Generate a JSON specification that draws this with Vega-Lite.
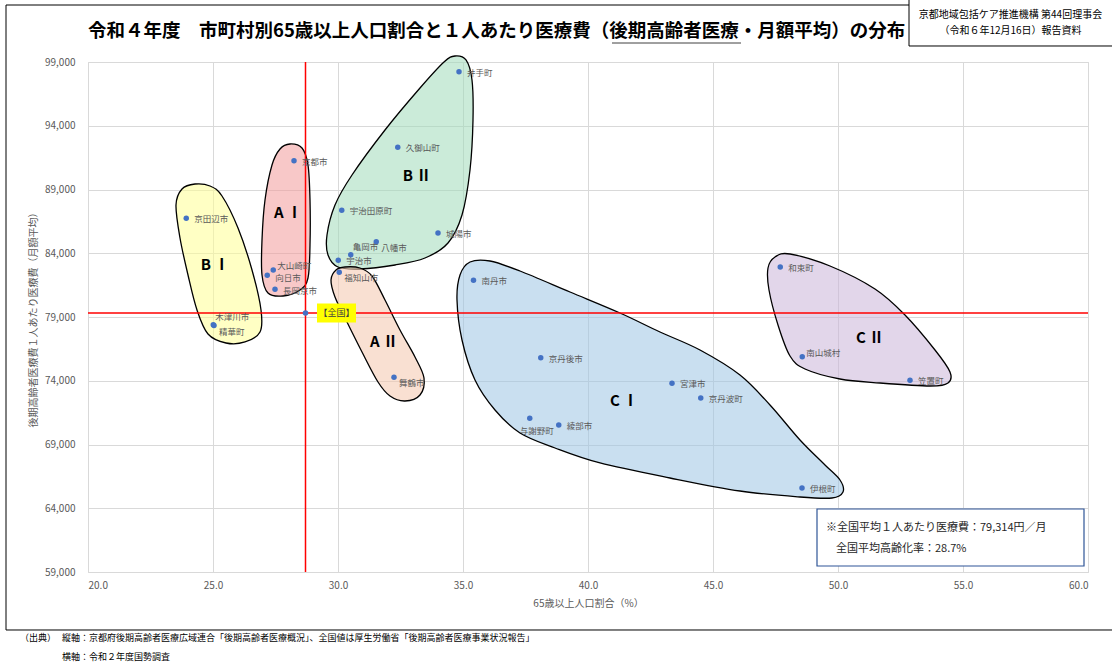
{
  "$schema": "https://vega.github.io/schema/vega-lite/v6.json",
  "width": 1000,
  "height": 510,
  "autosize": "none",
  "padding": {"left": 88, "top": 62, "right": 24, "bottom": 91},
  "background": "#ffffff",
  "config": {
    "font": "Noto Sans CJK JP",
    "view": {"stroke": "#d9d9d9", "strokeWidth": 1},
    "axis": {
      "domain": false,
      "ticks": false,
      "grid": true,
      "gridColor": "#d9d9d9",
      "gridWidth": 1,
      "labelColor": "#595959",
      "labelFontSize": 10,
      "labelFont": "Noto Sans CJK JP",
      "titleColor": "#595959",
      "titleFontWeight": "normal",
      "titleFont": "Noto Sans CJK JP",
      "titleFontSize": 10
    }
  },
  "datasets": {
    "cities": [
      {"name": "京都市", "pct": 28.24, "cost": 91260},
      {"name": "京田辺市", "pct": 23.93, "cost": 86740},
      {"name": "宇治田原町", "pct": 30.15, "cost": 87370},
      {"name": "亀岡市", "pct": 30.51, "cost": 83890},
      {"name": "八幡市", "pct": 31.53, "cost": 84910},
      {"name": "宇治市", "pct": 30.01, "cost": 83450},
      {"name": "福知山市", "pct": 30.05, "cost": 82510},
      {"name": "久御山町", "pct": 32.39, "cost": 92310},
      {"name": "井手町", "pct": 34.84, "cost": 98240},
      {"name": "城陽市", "pct": 34.0, "cost": 85590},
      {"name": "南丹市", "pct": 35.42, "cost": 81880},
      {"name": "大山崎町", "pct": 27.41, "cost": 82690},
      {"name": "向日市", "pct": 27.17, "cost": 82270},
      {"name": "長岡京市", "pct": 27.48, "cost": 81170},
      {"name": "木津川市", "pct": 25.01, "cost": 78400},
      {"name": "精華町", "pct": 25.04, "cost": 78330},
      {"name": "舞鶴市", "pct": 32.24, "cost": 74270},
      {"name": "京丹後市", "pct": 38.11, "cost": 75810},
      {"name": "与謝野町", "pct": 37.67, "cost": 71060},
      {"name": "綾部市", "pct": 38.83, "cost": 70530},
      {"name": "宮津市", "pct": 43.36, "cost": 73800},
      {"name": "京丹波町", "pct": 44.51, "cost": 72650},
      {"name": "伊根町", "pct": 48.56, "cost": 65590},
      {"name": "南山城村", "pct": 48.57, "cost": 75890},
      {"name": "和束町", "pct": 47.69, "cost": 82920},
      {"name": "笠置町", "pct": 52.88, "cost": 74040}
    ],
    "national": [
      {"name": "【全国】", "pct": 28.7, "cost": 79314}
    ],
    "zones": [
      {"group": "BⅠ", "i": 0, "pct": 24.28, "cost": 89432},
      {"group": "BⅠ", "i": 1, "pct": 24.88, "cost": 89275},
      {"group": "BⅠ", "i": 2, "pct": 25.36, "cost": 88490},
      {"group": "BⅠ", "i": 3, "pct": 26.0, "cost": 85981},
      {"group": "BⅠ", "i": 4, "pct": 26.56, "cost": 82687},
      {"group": "BⅠ", "i": 5, "pct": 26.92, "cost": 79549},
      {"group": "BⅠ", "i": 6, "pct": 26.88, "cost": 77824},
      {"group": "BⅠ", "i": 7, "pct": 26.28, "cost": 77040},
      {"group": "BⅠ", "i": 8, "pct": 25.52, "cost": 76961},
      {"group": "BⅠ", "i": 9, "pct": 24.8, "cost": 77667},
      {"group": "BⅠ", "i": 10, "pct": 24.36, "cost": 79549},
      {"group": "BⅠ", "i": 11, "pct": 24.0, "cost": 82295},
      {"group": "BⅠ", "i": 12, "pct": 23.68, "cost": 85196},
      {"group": "BⅠ", "i": 13, "pct": 23.52, "cost": 87785},
      {"group": "BⅠ", "i": 14, "pct": 23.76, "cost": 89039},
      {"group": "AⅠ", "i": 0, "pct": 28.08, "cost": 92569},
      {"group": "AⅠ", "i": 1, "pct": 28.56, "cost": 92255},
      {"group": "AⅠ", "i": 2, "pct": 28.8, "cost": 90922},
      {"group": "AⅠ", "i": 3, "pct": 28.88, "cost": 88177},
      {"group": "AⅠ", "i": 4, "pct": 28.88, "cost": 84647},
      {"group": "AⅠ", "i": 5, "pct": 28.8, "cost": 82059},
      {"group": "AⅠ", "i": 6, "pct": 28.48, "cost": 81118},
      {"group": "AⅠ", "i": 7, "pct": 27.8, "cost": 80647},
      {"group": "AⅠ", "i": 8, "pct": 27.2, "cost": 80883},
      {"group": "AⅠ", "i": 9, "pct": 26.96, "cost": 82295},
      {"group": "AⅠ", "i": 10, "pct": 26.96, "cost": 85040},
      {"group": "AⅠ", "i": 11, "pct": 27.08, "cost": 88177},
      {"group": "AⅠ", "i": 12, "pct": 27.36, "cost": 90922},
      {"group": "AⅠ", "i": 13, "pct": 27.68, "cost": 92177},
      {"group": "BⅡ", "i": 0, "pct": 34.68, "cost": 99471},
      {"group": "BⅡ", "i": 1, "pct": 35.12, "cost": 99157},
      {"group": "BⅡ", "i": 2, "pct": 35.36, "cost": 97588},
      {"group": "BⅡ", "i": 3, "pct": 35.4, "cost": 94451},
      {"group": "BⅡ", "i": 4, "pct": 35.28, "cost": 90530},
      {"group": "BⅡ", "i": 5, "pct": 34.96, "cost": 87000},
      {"group": "BⅡ", "i": 6, "pct": 34.4, "cost": 84804},
      {"group": "BⅡ", "i": 7, "pct": 33.48, "cost": 83628},
      {"group": "BⅡ", "i": 8, "pct": 32.28, "cost": 83079},
      {"group": "BⅡ", "i": 9, "pct": 30.88, "cost": 82765},
      {"group": "BⅡ", "i": 10, "pct": 30.0, "cost": 82922},
      {"group": "BⅡ", "i": 11, "pct": 29.6, "cost": 83863},
      {"group": "BⅡ", "i": 12, "pct": 29.56, "cost": 85432},
      {"group": "BⅡ", "i": 13, "pct": 29.88, "cost": 87785},
      {"group": "BⅡ", "i": 14, "pct": 30.56, "cost": 90137},
      {"group": "BⅡ", "i": 15, "pct": 31.88, "cost": 93667},
      {"group": "BⅡ", "i": 16, "pct": 33.28, "cost": 96961},
      {"group": "BⅡ", "i": 17, "pct": 34.24, "cost": 99000},
      {"group": "AⅡ", "i": 0, "pct": 30.28, "cost": 82922},
      {"group": "AⅡ", "i": 1, "pct": 30.88, "cost": 82843},
      {"group": "AⅡ", "i": 2, "pct": 31.36, "cost": 82216},
      {"group": "AⅡ", "i": 3, "pct": 31.88, "cost": 80334},
      {"group": "AⅡ", "i": 4, "pct": 32.48, "cost": 77981},
      {"group": "AⅡ", "i": 5, "pct": 33.08, "cost": 75863},
      {"group": "AⅡ", "i": 6, "pct": 33.44, "cost": 74216},
      {"group": "AⅡ", "i": 7, "pct": 33.28, "cost": 72883},
      {"group": "AⅡ", "i": 8, "pct": 32.68, "cost": 72412},
      {"group": "AⅡ", "i": 9, "pct": 32.08, "cost": 72804},
      {"group": "AⅡ", "i": 10, "pct": 31.6, "cost": 73902},
      {"group": "AⅡ", "i": 11, "pct": 30.96, "cost": 76255},
      {"group": "AⅡ", "i": 12, "pct": 30.32, "cost": 78765},
      {"group": "AⅡ", "i": 13, "pct": 29.88, "cost": 80569},
      {"group": "AⅡ", "i": 14, "pct": 29.72, "cost": 81902},
      {"group": "AⅡ", "i": 15, "pct": 29.92, "cost": 82687},
      {"group": "CⅠ", "i": 0, "pct": 35.28, "cost": 83314},
      {"group": "CⅠ", "i": 1, "pct": 36.08, "cost": 83393},
      {"group": "CⅠ", "i": 2, "pct": 37.28, "cost": 82608},
      {"group": "CⅠ", "i": 3, "pct": 39.28, "cost": 80961},
      {"group": "CⅠ", "i": 4, "pct": 41.28, "cost": 79314},
      {"group": "CⅠ", "i": 5, "pct": 42.88, "cost": 77824},
      {"group": "CⅠ", "i": 6, "pct": 44.48, "cost": 76412},
      {"group": "CⅠ", "i": 7, "pct": 46.08, "cost": 74451},
      {"group": "CⅠ", "i": 8, "pct": 47.28, "cost": 72098},
      {"group": "CⅠ", "i": 9, "pct": 48.48, "cost": 69353},
      {"group": "CⅠ", "i": 10, "pct": 49.48, "cost": 67393},
      {"group": "CⅠ", "i": 11, "pct": 50.08, "cost": 66216},
      {"group": "CⅠ", "i": 12, "pct": 50.2, "cost": 65275},
      {"group": "CⅠ", "i": 13, "pct": 49.76, "cost": 64805},
      {"group": "CⅠ", "i": 14, "pct": 48.48, "cost": 64883},
      {"group": "CⅠ", "i": 15, "pct": 46.08, "cost": 65353},
      {"group": "CⅠ", "i": 16, "pct": 43.28, "cost": 66373},
      {"group": "CⅠ", "i": 17, "pct": 40.48, "cost": 67550},
      {"group": "CⅠ", "i": 18, "pct": 38.68, "cost": 68726},
      {"group": "CⅠ", "i": 19, "pct": 37.28, "cost": 69902},
      {"group": "CⅠ", "i": 20, "pct": 36.28, "cost": 71706},
      {"group": "CⅠ", "i": 21, "pct": 35.48, "cost": 74059},
      {"group": "CⅠ", "i": 22, "pct": 34.96, "cost": 77196},
      {"group": "CⅠ", "i": 23, "pct": 34.76, "cost": 80334},
      {"group": "CⅠ", "i": 24, "pct": 34.88, "cost": 82295},
      {"group": "CⅡ", "i": 0, "pct": 47.48, "cost": 83706},
      {"group": "CⅡ", "i": 1, "pct": 48.08, "cost": 83941},
      {"group": "CⅡ", "i": 2, "pct": 49.68, "cost": 83000},
      {"group": "CⅡ", "i": 3, "pct": 51.48, "cost": 81196},
      {"group": "CⅡ", "i": 4, "pct": 52.68, "cost": 79157},
      {"group": "CⅡ", "i": 5, "pct": 53.88, "cost": 76412},
      {"group": "CⅡ", "i": 6, "pct": 54.48, "cost": 74687},
      {"group": "CⅡ", "i": 7, "pct": 54.4, "cost": 73824},
      {"group": "CⅡ", "i": 8, "pct": 53.68, "cost": 73589},
      {"group": "CⅡ", "i": 9, "pct": 51.68, "cost": 73824},
      {"group": "CⅡ", "i": 10, "pct": 50.08, "cost": 74137},
      {"group": "CⅡ", "i": 11, "pct": 48.68, "cost": 74922},
      {"group": "CⅡ", "i": 12, "pct": 48.08, "cost": 75941},
      {"group": "CⅡ", "i": 13, "pct": 47.6, "cost": 78373},
      {"group": "CⅡ", "i": 14, "pct": 47.24, "cost": 81118},
      {"group": "CⅡ", "i": 15, "pct": 47.2, "cost": 82843}
    ],
    "zoneNames": [
      {"group": "B Ⅰ", "pct": 25.08, "cost": 83079},
      {"group": "A Ⅰ", "pct": 28.0, "cost": 87157},
      {"group": "B Ⅱ", "pct": 33.16, "cost": 90059},
      {"group": "A Ⅱ", "pct": 31.84, "cost": 77040},
      {"group": "C Ⅰ", "pct": 41.44, "cost": 72412},
      {"group": "C Ⅱ", "pct": 51.28, "cost": 77353}
    ]
  },
  "layer": [
    {
      "description": "outer frame around the whole figure",
      "data": {"values": [{}]},
      "mark": {"type": "rect", "fill": "transparent", "stroke": "#000000", "strokeWidth": 1},
      "encoding": {
        "x": {"datum": 16.72, "type": "quantitative", "scale": {"domain": [20, 60], "nice": false, "zero": false}},
        "x2": {"datum": 61.3},
        "y": {"datum": 103470, "type": "quantitative", "scale": {"domain": [59000, 99000], "nice": false, "zero": false}},
        "y2": {"datum": 54452}
      }
    },
    {
      "description": "chart heading",
      "data": {"values": [{}]},
      "mark": {"type": "text", "align": "left", "baseline": "middle", "fontSize": 18.5, "fontWeight": "bold", "color": "#000000", "text": "令和４年度　市町村別65歳以上人口割合と１人あたり医療費（後期高齢者医療・月額平均）の分布"},
      "encoding": {"x": {"datum": 20, "type": "quantitative"}, "y": {"datum": 101431, "type": "quantitative"}}
    },
    {
      "description": "underline below 後期高齢者医療 in the heading",
      "data": {"values": [{}]},
      "mark": {"type": "rule", "color": "#404040", "strokeWidth": 1},
      "encoding": {
        "x": {"datum": 40.96, "type": "quantitative"},
        "x2": {"datum": 46.12},
        "y": {"datum": 100490, "type": "quantitative"}
      }
    },
    {
      "data": {"name": "zones"},
      "mark": {
        "type": "line",
        "interpolate": "cardinal-closed",
        "stroke": "#000000",
        "strokeWidth": 1.3,
        "fillOpacity": 0.55
      },
      "encoding": {
        "x": {
          "field": "pct",
          "type": "quantitative",
          "scale": {"domain": [20, 60], "nice": false, "zero": false},
          "axis": {
            "values": [20, 25, 30, 35, 40, 45, 50, 55, 60],
            "format": ".1f",
            "labelPadding": 8,
            "title": "65歳以上人口割合（%）",
            "titlePadding": 8
          }
        },
        "y": {
          "field": "cost",
          "type": "quantitative",
          "scale": {"domain": [59000, 99000], "nice": false, "zero": false},
          "axis": {
            "values": [59000, 64000, 69000, 74000, 79000, 84000, 89000, 94000, 99000],
            "format": ",d",
            "labelPadding": 13,
            "title": "後期高齢者医療費１人あたり医療費（月額平均）",
            "titlePadding": 6
          }
        },
        "order": {"field": "i", "type": "quantitative"},
        "detail": {"field": "group"},
        "fill": {
          "field": "group",
          "type": "nominal",
          "legend": null,
          "scale": {
            "domain": ["BⅠ", "AⅠ", "BⅡ", "AⅡ", "CⅠ", "CⅡ"],
            "range": ["#ffff94", "#f29b9b", "#a0dbba", "#f4c7ad", "#9dc5e4", "#cab4d9"]
          }
        }
      }
    },
    {
      "description": "national average age rate",
      "data": {"values": [{}]},
      "mark": {"type": "rule", "color": "#ff0000", "strokeWidth": 1.5},
      "encoding": {"x": {"datum": 28.7, "type": "quantitative"}}
    },
    {
      "description": "national average cost per person",
      "data": {"values": [{}]},
      "mark": {"type": "rule", "color": "#ff0000", "strokeWidth": 1.5},
      "encoding": {"y": {"datum": 79314, "type": "quantitative"}}
    },
    {
      "data": {"name": "zoneNames"},
      "mark": {"type": "text", "fontSize": 15, "fontWeight": "bold", "color": "#000000"},
      "encoding": {
        "x": {"field": "pct", "type": "quantitative"},
        "y": {"field": "cost", "type": "quantitative"},
        "text": {"field": "group"}
      }
    },
    {
      "data": {"name": "national"},
      "mark": {
        "type": "point",
        "shape": "M1.15,-0.95H5.05V0.95H1.15Z",
        "size": 400,
        "filled": true,
        "color": "#ffff00",
        "opacity": 1
      },
      "encoding": {
        "x": {"field": "pct", "type": "quantitative"},
        "y": {"field": "cost", "type": "quantitative"}
      }
    },
    {
      "data": {"name": "national"},
      "mark": {"type": "text", "align": "center", "dx": 31, "dy": 0, "fontSize": 9, "color": "#404040"},
      "encoding": {
        "x": {"field": "pct", "type": "quantitative"},
        "y": {"field": "cost", "type": "quantitative"},
        "text": {"field": "name"}
      }
    },
    {
      "data": {"name": "national"},
      "mark": {"type": "circle", "size": 30, "color": "#4472c4", "opacity": 1},
      "encoding": {
        "x": {"field": "pct", "type": "quantitative"},
        "y": {"field": "cost", "type": "quantitative"}
      }
    },
    {
      "data": {"name": "cities"},
      "mark": {"type": "circle", "size": 30, "color": "#4472c4", "opacity": 1},
      "encoding": {
        "x": {"field": "pct", "type": "quantitative"},
        "y": {"field": "cost", "type": "quantitative"}
      }
    },
    {
      "data": {"name": "cities"},
      "transform": [{"filter": {"not": {"field": "name", "oneOf": ["大山崎町", "南山城村", "亀岡市", "木津川市", "八幡市", "向日市", "精華町", "舞鶴市", "福知山市", "与謝野町", "長岡京市"]}}}],
      "mark": {"type": "text", "align": "left", "dx": 8, "dy": 1, "fontSize": 8.5, "color": "#595959"},
      "encoding": {
        "x": {"field": "pct", "type": "quantitative"},
        "y": {"field": "cost", "type": "quantitative"},
        "text": {"field": "name"}
      }
    },
    {
      "data": {"name": "cities"},
      "transform": [{"filter": {"field": "name", "oneOf": ["長岡京市"]}}],
      "mark": {"type": "text", "align": "left", "dx": 8, "dy": 2, "fontSize": 8.5, "color": "#595959"},
      "encoding": {
        "x": {"field": "pct", "type": "quantitative"},
        "y": {"field": "cost", "type": "quantitative"},
        "text": {"field": "name"}
      }
    },
    {
      "data": {"name": "cities"},
      "transform": [{"filter": {"field": "name", "oneOf": ["大山崎町", "南山城村"]}}],
      "mark": {"type": "text", "align": "left", "dx": 4, "dy": -4, "fontSize": 8.5, "color": "#595959"},
      "encoding": {
        "x": {"field": "pct", "type": "quantitative"},
        "y": {"field": "cost", "type": "quantitative"},
        "text": {"field": "name"}
      }
    },
    {
      "data": {"name": "cities"},
      "transform": [{"filter": {"field": "name", "oneOf": ["亀岡市", "木津川市"]}}],
      "mark": {"type": "text", "align": "left", "dx": 2, "dy": -8, "fontSize": 8.5, "color": "#595959"},
      "encoding": {
        "x": {"field": "pct", "type": "quantitative"},
        "y": {"field": "cost", "type": "quantitative"},
        "text": {"field": "name"}
      }
    },
    {
      "data": {"name": "cities"},
      "transform": [{"filter": {"field": "name", "oneOf": ["八幡市", "精華町", "舞鶴市", "福知山市"]}}],
      "mark": {"type": "text", "align": "left", "dx": 5, "dy": 6, "fontSize": 8.5, "color": "#595959"},
      "encoding": {
        "x": {"field": "pct", "type": "quantitative"},
        "y": {"field": "cost", "type": "quantitative"},
        "text": {"field": "name"}
      }
    },
    {
      "data": {"name": "cities"},
      "transform": [{"filter": {"field": "name", "oneOf": ["向日市"]}}],
      "mark": {"type": "text", "align": "left", "dx": 8, "dy": 3, "fontSize": 8.5, "color": "#595959"},
      "encoding": {
        "x": {"field": "pct", "type": "quantitative"},
        "y": {"field": "cost", "type": "quantitative"},
        "text": {"field": "name"}
      }
    },
    {
      "data": {"name": "cities"},
      "transform": [{"filter": {"field": "name", "oneOf": ["与謝野町"]}}],
      "mark": {"type": "text", "align": "center", "dx": 7, "dy": 13, "fontSize": 8.5, "color": "#595959"},
      "encoding": {
        "x": {"field": "pct", "type": "quantitative"},
        "y": {"field": "cost", "type": "quantitative"},
        "text": {"field": "name"}
      }
    },
    {
      "description": "note box with national averages",
      "data": {"values": [{}]},
      "mark": {"type": "rect", "fill": "#ffffff", "stroke": "#2f5597", "strokeWidth": 1.2},
      "encoding": {
        "x": {"datum": 49.16, "type": "quantitative"},
        "x2": {"datum": 59.84},
        "y": {"datum": 63942, "type": "quantitative"},
        "y2": {"datum": 59471}
      }
    },
    {
      "data": {"values": [{}]},
      "mark": {"type": "text", "align": "left", "baseline": "middle", "fontSize": 11, "color": "#262626", "text": "※全国平均１人あたり医療費：79,314円／月"},
      "encoding": {"x": {"datum": 49.52, "type": "quantitative"}, "y": {"datum": 62452, "type": "quantitative"}}
    },
    {
      "data": {"values": [{}]},
      "mark": {"type": "text", "align": "left", "baseline": "middle", "fontSize": 11, "color": "#262626", "text": "全国平均高齢化率：28.7%"},
      "encoding": {"x": {"datum": 49.92, "type": "quantitative"}, "y": {"datum": 60805, "type": "quantitative"}}
    },
    {
      "description": "meeting header box",
      "data": {"values": [{}]},
      "mark": {"type": "rect", "fill": "#ffffff", "stroke": "#000000", "strokeWidth": 1},
      "encoding": {
        "x": {"datum": 52.84, "type": "quantitative"},
        "x2": {"datum": 61.3},
        "y": {"datum": 103950, "type": "quantitative"},
        "y2": {"datum": 100255}
      }
    },
    {
      "data": {"values": [{}]},
      "mark": {"type": "text", "align": "center", "baseline": "middle", "fontSize": 10, "color": "#000000", "text": "京都地域包括ケア推進機構 第44回理事会"},
      "encoding": {"x": {"datum": 56.9, "type": "quantitative"}, "y": {"datum": 102686, "type": "quantitative"}}
    },
    {
      "data": {"values": [{}]},
      "mark": {"type": "text", "align": "center", "baseline": "middle", "fontSize": 10, "color": "#000000", "text": "（令和６年12月16日）報告資料"},
      "encoding": {"x": {"datum": 56.9, "type": "quantitative"}, "y": {"datum": 101431, "type": "quantitative"}}
    },
    {
      "description": "sources below the frame",
      "data": {"values": [{}]},
      "mark": {"type": "text", "align": "left", "baseline": "middle", "fontSize": 9, "color": "#000000", "text": "（出典）"},
      "encoding": {"x": {"datum": 17.28, "type": "quantitative"}, "y": {"datum": 53824, "type": "quantitative"}}
    },
    {
      "data": {"values": [{}]},
      "mark": {"type": "text", "align": "left", "baseline": "middle", "fontSize": 9, "color": "#000000", "text": "縦軸：京都府後期高齢者医療広域連合「後期高齢者医療概況」、全国値は厚生労働省「後期高齢者医療事業状況報告」"},
      "encoding": {"x": {"datum": 18.96, "type": "quantitative"}, "y": {"datum": 53824, "type": "quantitative"}}
    },
    {
      "data": {"values": [{}]},
      "mark": {"type": "text", "align": "left", "baseline": "middle", "fontSize": 9, "color": "#000000", "text": "横軸：令和２年度国勢調査"},
      "encoding": {"x": {"datum": 18.96, "type": "quantitative"}, "y": {"datum": 52334, "type": "quantitative"}}
    }
  ]
}
